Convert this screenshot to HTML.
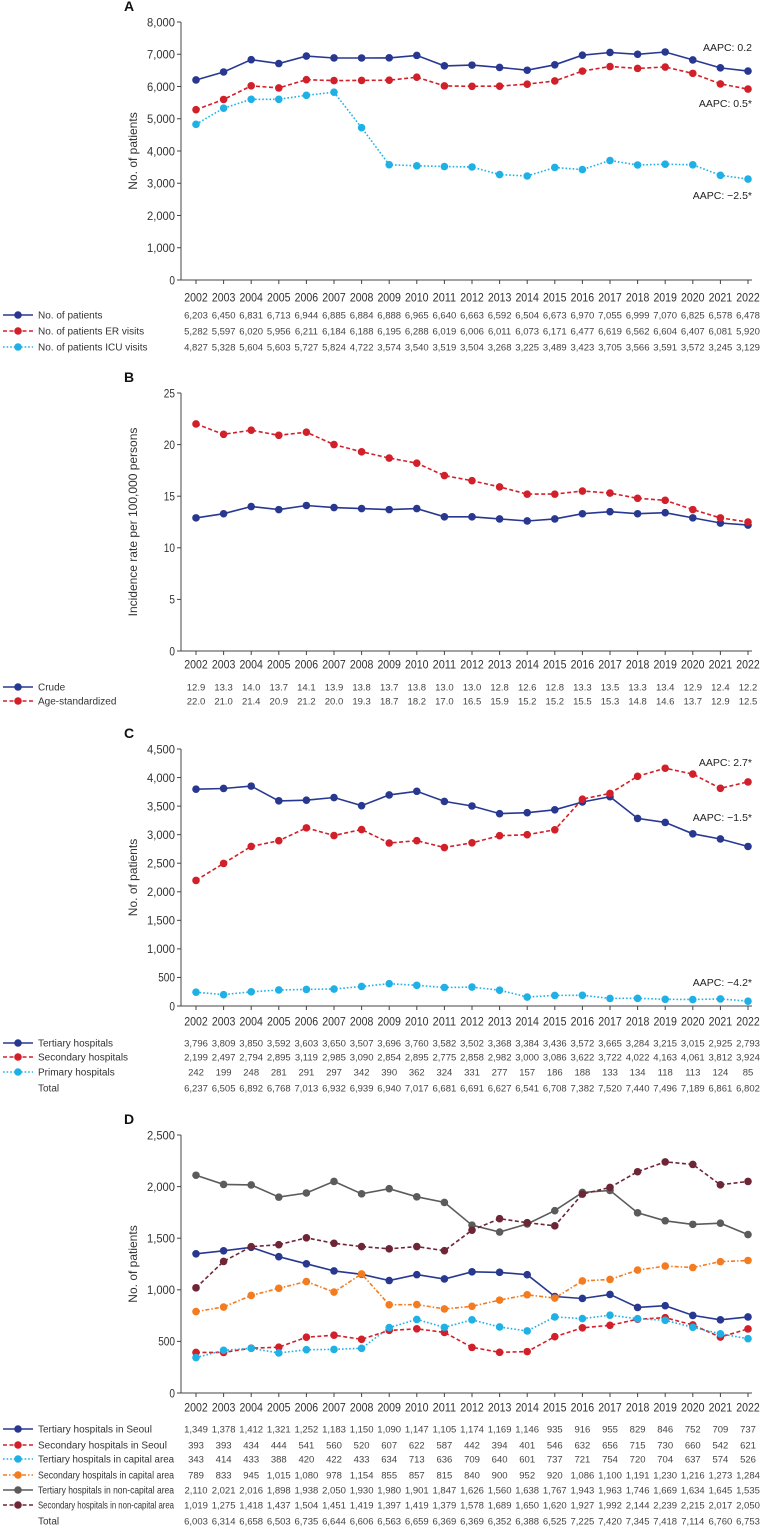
<!DOCTYPE html>
<html><head><meta charset="utf-8"><style>
html,body{margin:0;padding:0;background:#fff;}
svg{display:block;font-family:"Liberation Sans",Arial,sans-serif;}
</style></head><body>
<svg id="chart" width="762" height="1526" viewBox="0 0 762 1526" xmlns="http://www.w3.org/2000/svg"></svg>
<script>
const years = ["2002","2003","2004","2005","2006","2007","2008","2009","2010","2011","2012","2013","2014","2015","2016","2017","2018","2019","2020","2021","2022"];
// Panel A
const aPatients = [6203,6450,6831,6713,6944,6885,6884,6888,6965,6640,6663,6592,6504,6673,6970,7055,6999,7070,6825,6578,6478];
const aER = [5282,5597,6020,5956,6211,6184,6188,6195,6288,6019,6006,6011,6073,6171,6477,6619,6562,6604,6407,6081,5920];
const aICU = [4827,5328,5604,5603,5727,5824,4722,3574,3540,3519,3504,3268,3225,3489,3423,3705,3566,3591,3572,3245,3129];
const aTicks = [0,1000,2000,3000,4000,5000,6000,7000,8000];
// Panel B
const bCrude = [12.9,13.3,14.0,13.7,14.1,13.9,13.8,13.7,13.8,13.0,13.0,12.8,12.6,12.8,13.3,13.5,13.3,13.4,12.9,12.4,12.2];
const bAge = [22.0,21.0,21.4,20.9,21.2,20.0,19.3,18.7,18.2,17.0,16.5,15.9,15.2,15.2,15.5,15.3,14.8,14.6,13.7,12.9,12.5];
const bTicks = [0,5,10,15,20,25];
// Panel C
const cTertiary = [3796,3809,3850,3592,3603,3650,3507,3696,3760,3582,3502,3368,3384,3436,3572,3665,3284,3215,3015,2925,2793];
const cSecondary = [2199,2497,2794,2895,3119,2985,3090,2854,2895,2775,2858,2982,3000,3086,3622,3722,4022,4163,4061,3812,3924];
const cPrimary = [242,199,248,281,291,297,342,390,362,324,331,277,157,186,188,133,134,118,113,124,85];
const cTotal = [6237,6505,6892,6768,7013,6932,6939,6940,7017,6681,6691,6627,6541,6708,7382,7520,7440,7496,7189,6861,6802];
const cTicks = [0,500,1000,1500,2000,2500,3000,3500,4000,4500];
// Panel D
const dTerSeoul = [1349,1378,1412,1321,1252,1183,1150,1090,1147,1105,1174,1169,1146,935,916,955,829,846,752,709,737];
const dSecSeoul = [393,393,434,444,541,560,520,607,622,587,442,394,401,546,632,656,715,730,660,542,621];
const dTerCap = [343,414,433,388,420,422,433,634,713,636,709,640,601,737,721,754,720,704,637,574,526];
const dSecCap = [789,833,945,1015,1080,978,1154,855,857,815,840,900,952,920,1086,1100,1191,1230,1216,1273,1284];
const dTerNon = [2110,2021,2016,1898,1938,2050,1930,1980,1901,1847,1626,1560,1638,1767,1943,1963,1746,1669,1634,1645,1535];
const dSecNon = [1019,1275,1418,1437,1504,1451,1419,1397,1419,1379,1578,1689,1650,1620,1927,1992,2144,2239,2215,2017,2050];
const dTotal = [6003,6314,6658,6503,6735,6644,6606,6563,6659,6369,6369,6352,6388,6525,7225,7420,7345,7418,7114,6760,6753];
const dTicks = [0,500,1000,1500,2000,2500];

const NS="http://www.w3.org/2000/svg";
const svg=document.getElementById('chart');
function mk(tag,attrs,parent){const e=document.createElementNS(NS,tag);for(const k in attrs)e.setAttribute(k,attrs[k]);(parent||svg).appendChild(e);return e;}
function fit(el,maxW){const w=el.getComputedTextLength();if(w>maxW){el.setAttribute('textLength',maxW);el.setAttribute('lengthAdjust','spacingAndGlyphs');}}
const C={navy:"#283891",red:"#d2202a",cyan:"#1fb1e6",orange:"#f47c20",gray:"#5b5b5b",maroon:"#6e2636"};
const STY={solid:"",dash:"4,2.5",dot:"1.6,2",dashdot:"4,2,1.5,2"};
function xPos(i){return 196+i*27.6;}
function fmt(v,dec){return dec?v.toFixed(dec):v.toLocaleString('en-US');}

function panel(o){
  const g=mk('g',{});
  
  
  const y=v=>o.y0-(v/o.max)*(o.y0-o.yTop);
  const t=mk('text',{x:124,y:o.yTop-11,'font-size':14,'font-weight':'bold',fill:'#111'},g);t.textContent=o.letter;
  
  const ax=mk('path',{d:`M181,${o.yTop}V${o.y0}H752`,stroke:'#444','stroke-width':1,fill:'none'},g);
  
  o.ticks.forEach(v=>{
    mk('line',{x1:177,x2:181,y1:y(v),y2:y(v),stroke:'#444'},g);
    const tl=mk('text',{x:175,y:y(v)+4.3,'font-size':12,'text-anchor':'end',fill:'#333'},g);tl.textContent=o.tickFmt(v);
    
    fit(tl,tl.textContent.length*5.6);
  });
  const yl=mk('text',{transform:`translate(137,${(o.yTop+o.y0)/2}) rotate(-90)`,'font-size':12,'text-anchor':'middle',fill:'#333'},g);yl.textContent=o.ylabel;
  
  years.forEach((yr,i)=>{
    mk('line',{x1:xPos(i),x2:xPos(i),y1:o.y0,y2:o.y0+4,stroke:'#444'},g);
    const xl=mk('text',{x:xPos(i),y:o.yearY+4.5,'font-size':12,'text-anchor':'middle',fill:'#333',textLength:23.5,lengthAdjust:'spacingAndGlyphs'},g);xl.textContent=yr;
    
  });
  o.series.forEach((s,k)=>{
    const ry=o.rowY[k];
    if(s.color){
      const sg=mk('g',{},g);
      
      const d=s.data.map((v,i)=>(i?'L':'M')+xPos(i).toFixed(1)+','+y(v).toFixed(1)).join('');
      mk('path',{d,stroke:s.color,'stroke-width':1.6,fill:'none','stroke-dasharray':STY[s.style]},sg);
      s.data.forEach((v,i)=>{const c=mk('circle',{cx:xPos(i),cy:y(v),r:3.8,fill:s.color},sg);
        });
      const lg=mk('g',{},g);
      mk('line',{x1:3,x2:33,y1:ry,y2:ry,stroke:s.color,'stroke-width':1.6,'stroke-dasharray':STY[s.style]},lg);
      mk('circle',{cx:18,cy:ry,r:3.8,fill:s.color},lg);
    }
    const lt=mk('text',{x:38,y:ry+3.5,'font-size':10,fill:'#333'},g);lt.textContent=s.name;
    
    fit(lt,136);
    s.data.forEach((v,i)=>{const tv=mk('text',{x:xPos(i),y:ry+3.5,'font-size':9.5,'text-anchor':'middle',fill:'#444'},g);tv.textContent=fmt(v,o.dec);
      
      fit(tv,25);});
  });
  (o.notes||[]).forEach(n=>{const nt=mk('text',{x:752,y:n[1],'font-size':10.5,'text-anchor':'end',fill:'#222'},g);nt.textContent=n[0];
    });
}
const thou=v=>v.toLocaleString('en-US');
panel({letter:'A',yTop:22,y0:280,max:8000,ticks:aTicks,tickFmt:thou,ylabel:'No. of patients',yearY:297,dec:0,
  rowY:[315,331,347],
  series:[{id:'patients',name:'No. of patients',data:aPatients,color:C.navy,style:'solid'},
          {id:'er',name:'No. of patients ER visits',data:aER,color:C.red,style:'dash'},
          {id:'icu',name:'No. of patients ICU visits',data:aICU,color:C.cyan,style:'dot'}],
  notes:[['AAPC: 0.2',51],['AAPC: 0.5*',107],['AAPC: \u22122.5*',199]]});
panel({letter:'B',yTop:393,y0:651,max:25,ticks:bTicks,tickFmt:v=>String(v),ylabel:'Incidence rate per 100,000 persons',yearY:664,dec:1,
  rowY:[687,701],
  series:[{id:'crude',name:'Crude',data:bCrude,color:C.navy,style:'solid'},
          {id:'age',name:'Age-standardized',data:bAge,color:C.red,style:'dash'}]});
panel({letter:'C',yTop:749,y0:1006,max:4500,ticks:cTicks,tickFmt:thou,ylabel:'No. of patients',yearY:1021,dec:0,
  rowY:[1043,1057,1072,1088],
  series:[{id:'tertiary',name:'Tertiary hospitals',data:cTertiary,color:C.navy,style:'solid'},
          {id:'secondary',name:'Secondary hospitals',data:cSecondary,color:C.red,style:'dash'},
          {id:'primary',name:'Primary hospitals',data:cPrimary,color:C.cyan,style:'dot'},
          {id:'total',name:'Total',data:cTotal}],
  notes:[['AAPC: 2.7*',766],['AAPC: \u22121.5*',821],['AAPC: \u22124.2*',986]]});
panel({letter:'D',yTop:1135,y0:1393,max:2500,ticks:dTicks,tickFmt:thou,ylabel:'No. of patients',yearY:1407,dec:0,
  rowY:[1429,1445,1459,1475,1490,1505,1521],
  series:[{id:'ter-seoul',name:'Tertiary hospitals in Seoul',data:dTerSeoul,color:C.navy,style:'solid'},
          {id:'sec-seoul',name:'Secondary hospitals in Seoul',data:dSecSeoul,color:C.red,style:'dash'},
          {id:'ter-cap',name:'Tertiary hospitals in capital area',data:dTerCap,color:C.cyan,style:'dot'},
          {id:'sec-cap',name:'Secondary hospitals in capital area',data:dSecCap,color:C.orange,style:'dashdot'},
          {id:'ter-non',name:'Tertiary hospitals in non-capital area',data:dTerNon,color:C.gray,style:'solid'},
          {id:'sec-non',name:'Secondary hospitals in non-capital area',data:dSecNon,color:C.maroon,style:'dash'},
          {id:'total',name:'Total',data:dTotal}]});
</script>
</body></html>
